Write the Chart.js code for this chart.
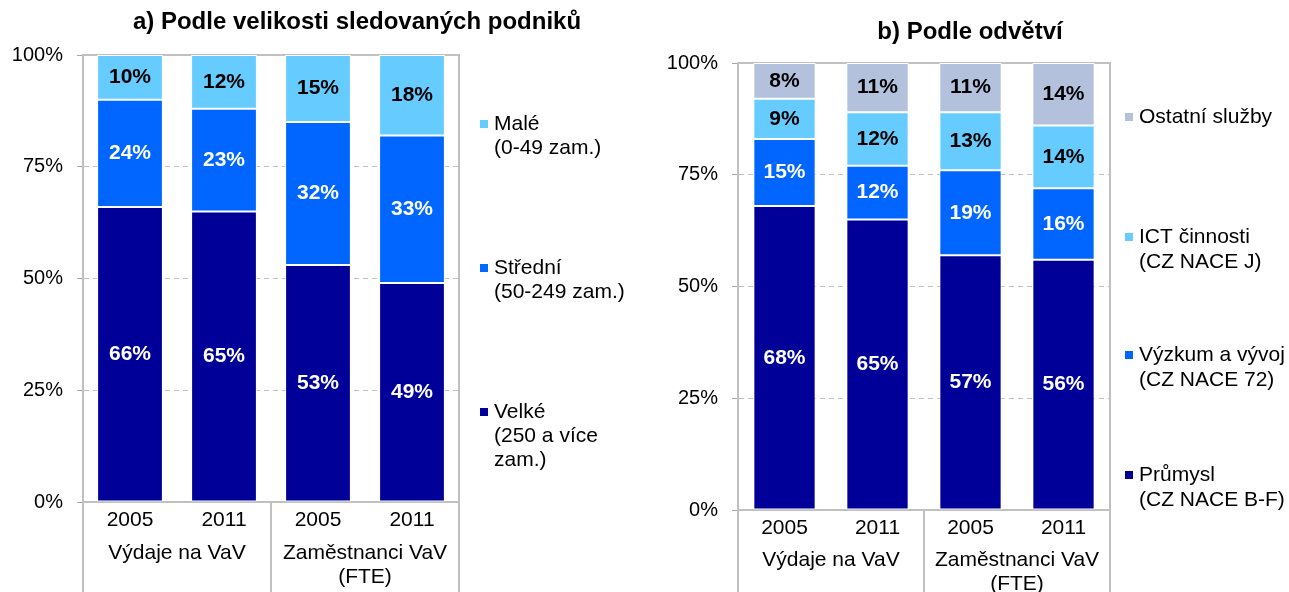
<!DOCTYPE html>
<html>
<head>
<meta charset="utf-8">
<script src="https://cdn.jsdelivr.net/npm/chart.js@4.4.1/dist/chart.umd.min.js"></script>
<style>
  html, body { margin: 0; padding: 0; background: #fff; }
  #wrap { position: relative; width: 1289px; height: 592px; overflow: hidden; }
  canvas { position: absolute; top: 0; }
  #chartA { left: 0; }
  #chartB { left: 640px; }
</style>
</head>
<body>
<div id="wrap">
  <canvas id="chartA" width="640" height="592"></canvas>
  <canvas id="chartB" width="649" height="592"></canvas>
</div>
<script>
const FONT = "'Liberation Sans', Arial, sans-serif";

// ─── Data ─────────────────────────────────────────────────────────────────────
const years  = ['2005', '2011', '2005', '2011'];
const groups = [['Výdaje na VaV'], ['Zaměstnanci VaV', '(FTE)']];

// a) Podle velikosti sledovaných podniků (bottom → top)
const velke   = [66, 65, 53, 49];
const stredni = [24, 23, 32, 33];
const male    = [10, 12, 15, 18];
const sizeNames = [
  ['Velké', '(250 a více', 'zam.)'],
  ['Střední', '(50-249 zam.)'],
  ['Malé', '(0-49 zam.)'],
];

// b) Podle odvětví (bottom → top)
const prumysl = [68, 65, 57, 56];
const vyzkum  = [15, 12, 19, 16];
const ict     = [9, 12, 13, 14];
const ostatni = [8, 11, 11, 14];
const sectorNames = [
  ['Průmysl', '(CZ NACE B-F)'],
  ['Výzkum a vývoj', '(CZ NACE 72)'],
  ['ICT činnosti', '(CZ NACE J)'],
  ['Ostatní služby'],
];

const NAVY  = '#000099';
const BLUE  = '#0066ff';
const LIGHT = '#66ccff';
const GREY  = '#b3c1dd';
const LINE  = '#c0c0c0';

// ─── Decorations: frame, separators, group labels, values, legend, title ──────
function makeDecor(cfg) {
  return {
    id: 'decor',
    beforeDatasetsDraw(chart) {
      const { ctx, chartArea: a } = chart;
      const xs  = chart.scales.x;
      const mid = (xs.getPixelForValue(1) + xs.getPixelForValue(2)) / 2;
      ctx.save();
      ctx.strokeStyle = LINE;
      ctx.lineWidth = 2;
      ctx.beginPath();
      ctx.moveTo(a.left, a.top); ctx.lineTo(a.right, a.top); ctx.lineTo(a.right, chart.height);
      ctx.moveTo(a.left, a.bottom); ctx.lineTo(a.left, chart.height);
      ctx.moveTo(mid, a.bottom); ctx.lineTo(mid, chart.height);
      ctx.stroke();
      ctx.restore();
    },
    afterDatasetsDraw(chart) {
      const { ctx, chartArea: a } = chart;
      const xs = chart.scales.x;
      ctx.save();
      ctx.textAlign = 'center';
      ctx.textBaseline = 'middle';

      // values inside segments
      ctx.font = `bold ${cfg.valSize}px ${FONT}`;
      chart.data.datasets.forEach((ds, i) => {
        chart.getDatasetMeta(i).data.forEach((bar, j) => {
          ctx.fillStyle = ds.labelColor;
          ctx.fillText(ds.data[j] + '%', bar.x, (bar.y + bar.base) / 2);
        });
      });

      // group labels under the years
      ctx.fillStyle = '#000';
      ctx.font = `21px ${FONT}`;
      groups.forEach((lines, g) => {
        const cx = (xs.getPixelForValue(g * 2) + xs.getPixelForValue(g * 2 + 1)) / 2;
        lines.forEach((t, k) => ctx.fillText(t, cx, a.bottom + cfg.groupY + k * 24));
      });

      // legend
      ctx.textAlign = 'left';
      chart.data.datasets.forEach((ds, i) => {
        const y0 = cfg.legendY[i];
        ctx.fillStyle = ds.backgroundColor;
        ctx.fillRect(cfg.sqX, y0 - 4, 8, 8);
        ctx.fillStyle = '#000';
        cfg.names[i].forEach((t, k) => ctx.fillText(t, cfg.txtX, y0 + k * cfg.lh));
      });

      // title
      ctx.textAlign = 'center';
      ctx.font = `bold 24px ${FONT}`;
      ctx.fillText(cfg.title, cfg.titleX, cfg.titleY);
      ctx.restore();
    },
  };
}

function makeChart(id, sets, cfg) {
  return new Chart(document.getElementById(id), {
    type: 'bar',
    data: {
      labels: years,
      datasets: sets.map(s => ({
        label: s.name,
        data: s.data,
        backgroundColor: s.color,
        labelColor: s.text,
        borderColor: '#ffffff',
        borderWidth: 1,
        borderSkipped: false,
        barPercentage: cfg.barPct,
        categoryPercentage: 1,
      })),
    },
    options: {
      responsive: false,
      animation: false,
      devicePixelRatio: 1,
      layout: { padding: { top: cfg.top, right: cfg.right, left: 0, bottom: 0 } },
      plugins: { legend: { display: false }, tooltip: { enabled: false } },
      scales: {
        x: {
          stacked: true,
          grid: { display: false, drawTicks: false },
          border: { display: true, color: LINE, width: 2 },
          ticks: { color: '#000', font: { family: FONT, size: 21 }, padding: 6, maxRotation: 0, autoSkip: false },
          afterFit: s => { s.height = cfg.xh; },
        },
        y: {
          stacked: true,
          min: 0,
          max: 100,
          ticks: {
            stepSize: 25,
            color: '#000',
            font: { family: FONT, size: 20 },
            padding: 14,
            callback: v => v + '%',
          },
          grid: {
            color: c => (c.tick && (c.tick.value === 0 || c.tick.value === 100)) ? 'rgba(0,0,0,0)' : LINE,
            lineWidth: 1,
            tickColor: '#a6a6a6',
            tickLength: 6,
            tickBorderDash: [],
          },
          border: { color: LINE, width: 2, dash: [5, 4] },
          afterFit: s => { s.width = cfg.yw; },
        },
      },
    },
    plugins: [makeDecor(cfg)],
  });
}

makeChart('chartA', [
  { name: sizeNames[0][0], data: velke,   color: NAVY,  text: '#fff' },
  { name: sizeNames[1][0], data: stredni, color: BLUE,  text: '#fff' },
  { name: sizeNames[2][0], data: male,    color: LIGHT, text: '#000' },
], {
  top: 55, right: 181, xh: 90, yw: 83, barPct: 0.70, valSize: 21,
  groupY: 51, names: sizeNames, legendY: [412, 268, 124], lh: 24,
  sqX: 480, txtX: 494,
  title: 'a) Podle velikosti sledovaných podniků', titleX: 357, titleY: 22,
});

makeChart('chartB', [
  { name: sectorNames[0][0], data: prumysl, color: NAVY,  text: '#fff' },
  { name: sectorNames[1][0], data: vyzkum,  color: BLUE,  text: '#fff' },
  { name: sectorNames[2][0], data: ict,     color: LIGHT, text: '#000' },
  { name: sectorNames[3][0], data: ostatni, color: GREY,  text: '#000' },
], {
  top: 63, right: 179, xh: 82, yw: 98, barPct: 0.67, valSize: 21,
  groupY: 50, names: sectorNames, legendY: [475, 355, 237, 117], lh: 25,
  sqX: 485, txtX: 499,
  title: 'b) Podle odvětví', titleX: 330, titleY: 32,
});
</script>
</body>
</html>
